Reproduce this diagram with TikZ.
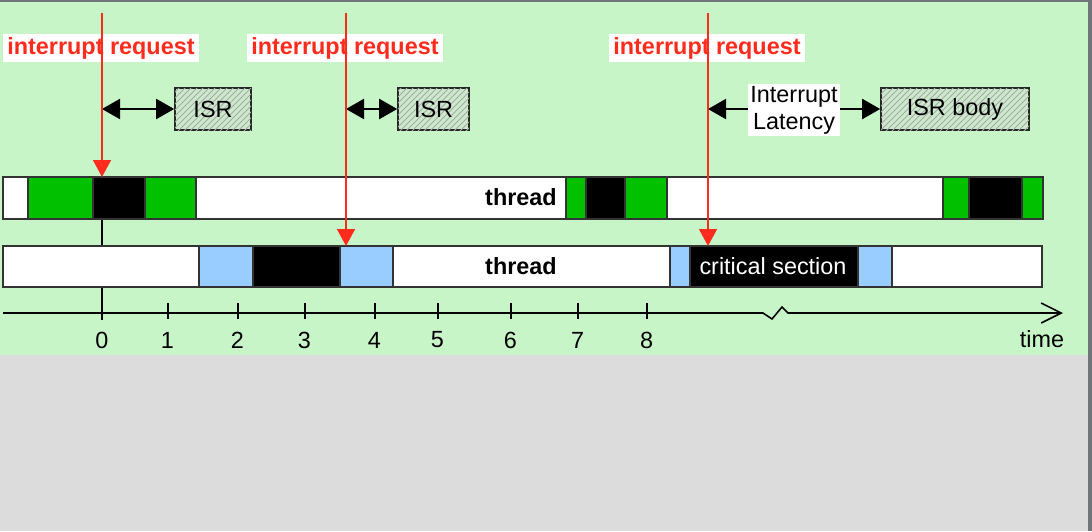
\documentclass[tikz,border=0pt]{standalone}
\usepackage{fontspec}
\setmainfont{Liberation Sans}
\usetikzlibrary{arrows.meta,patterns}
\definecolor{panel}{HTML}{C8F5C8}
\definecolor{frame}{HTML}{DCDCDC}
\definecolor{edge}{HTML}{70757A}
\definecolor{irqred}{HTML}{FF2B1C}
\definecolor{run}{HTML}{00C000}
\definecolor{isrblue}{HTML}{99CCFF}
\definecolor{isrfill}{HTML}{CFE6CF}
\definecolor{hatch}{HTML}{9DB29D}
\tikzset{
  txt/.style={font=\fontsize{11.7}{13.5}\selectfont},
  irqlabel/.style={fill=white,text=irqred,font=\fontsize{11.7}{13.5}\selectfont\bfseries,
    inner xsep=2.2pt,inner ysep=1.5pt,text height=8.6pt,text depth=2.6pt},
  isrbox/.style={txt,draw=black!85,line width=0.8pt,fill=isrfill,
    postaction={pattern=north east lines,pattern color=hatch},minimum height=21pt},
  latency/.style={txt,fill=white,align=center,inner sep=1pt},
  seg/.style={draw=black!80,line width=0.7pt},
  irq/.style={draw=irqred,line width=0.75pt,-{Triangle[length=8.5pt,width=9pt]}},
  span/.style={line width=1pt,{Triangle[length=9pt,width=10pt]}-{Triangle[length=9pt,width=10pt]}},
  latarrow/.style={line width=1pt,-{Triangle[length=9pt,width=10pt]}},
  timeaxis/.style={line width=0.8pt,-{Straight Barb[length=10pt,width=10pt]}},
  tick/.style={line width=0.75pt}
}
\begin{document}
\begin{tikzpicture}[x=0.5pt,y=-0.5pt]
  % background
  \fill[frame] (0,0) rectangle (1092,531);
  \fill[panel] (0,2) rectangle (1088,355);
  \fill[edge] (0,0) rectangle (1092,2);
  \fill[edge] (1088,0) rectangle (1092,531);

  % labels of the requests
  \node[irqlabel] (req1) at (101,48) {interrupt request};
  \node[irqlabel] (req2) at (345,48) {interrupt request};
  \node[irqlabel] (req3) at (707,48) {interrupt request};

  % ISR boxes
  \node[isrbox,minimum width=38pt] (isr1) at (213,109) {ISR};
  \node[isrbox,minimum width=35.5pt] (isr2) at (433.5,109) {ISR};
  \node[isrbox,minimum width=74pt] (isr3) at (955,109) {ISR body};
  \coordinate (lat1) at (102,109);
  \coordinate (lat2) at (346,109);
  \coordinate (lat3) at (708,109);
  \draw[span] (lat1) -- (isr1.west);
  \draw[span] (lat2) -- (isr2.west);
  \draw[latarrow] (lat3) -- (isr3.west);
  \draw[latarrow] (794,109) -- (lat3);
  \node[latency] (lat) at (794,110) {Interrupt\\Latency};

  % zero line
  \coordinate (zerotop) at (102,219);
  \coordinate (zero) at (102,320);
  \draw[tick] (zerotop) -- (zero);

  % thread bars
  \foreach \a/\b/\c in {3/28/white,28/93/run,93/145/black,145/196/run,196/566/white,
      566/586/run,586/625/black,625/667/run,667/943/white,943/969/run,969/1022/black,1022/1043/run}
    \draw[seg,fill=\c] (\a,177) rectangle (\b,219);
  \foreach \a/\b/\c in {3/199/white,199/253/isrblue,253/340/black,340/393/isrblue,393/670/white,
      670/690/isrblue,690/858/black,858/892/isrblue,892/1042/white}
    \draw[seg,fill=\c] (\a,246) rectangle (\b,287);
  \node[txt,font=\fontsize{11.7}{13.5}\selectfont\bfseries] (thread1) at (521,197) {thread};
  \node[txt,font=\fontsize{11.7}{13.5}\selectfont\bfseries] (thread2) at (521,266) {thread};
  \node[txt,text=white] (crit) at (773,266) {critical section};

  % time axis
  \coordinate (t0) at (3,313);
  \coordinate (tend) at (1063,313);
  \draw[timeaxis] (t0) -- (763,313) -- (772,319) -- (782,307) -- (788,313) -- (tend);
  \node[txt] (n0) at (102,340) {0};
  \foreach \x/\n in {168/1,238/2,305/3,375/4,438/5,511/6,578/7,647/8}{
    \draw[tick] (\x,303) -- (\x,319);
    \node[txt] (n\n) at (\x-0.5,340) {\n};
  }
  \node[txt] (time) at (1042,339) {time};

  % requests
  \coordinate (src1) at (102,13);
  \coordinate (src2) at (346,13);
  \coordinate (src3) at (708,13);
  \coordinate (hit1) at (102,177);
  \coordinate (hit2) at (346,246);
  \coordinate (hit3) at (708,246);
  \draw[irq] (src1) -- (hit1);
  \draw[irq] (src2) -- (hit2);
  \draw[irq] (src3) -- (hit3);
\end{tikzpicture}
\end{document}
